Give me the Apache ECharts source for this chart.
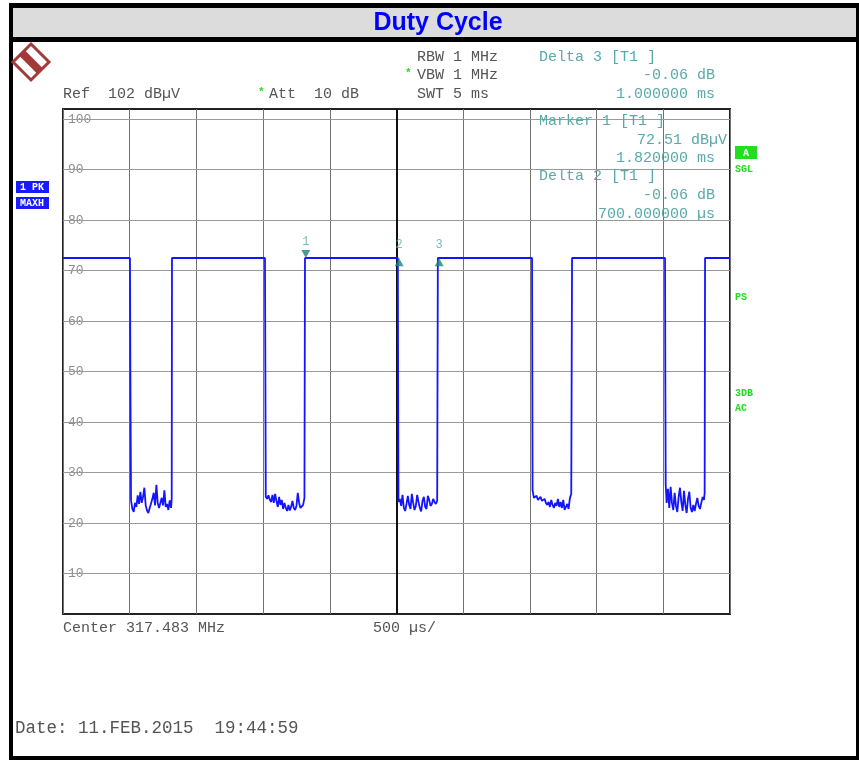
<!DOCTYPE html>
<html>
<head>
<meta charset="utf-8">
<title>Duty Cycle</title>
<script src="https://cdn.jsdelivr.net/npm/echarts@6/dist/echarts.min.js"></script>
<style>
  html, body { margin: 0; padding: 0; background: #fff; }
  #main { width: 859px; height: 760px; }
</style>
</head>
<body>
<div id="main"></div>
<script>
// sweep: 0 .. 5 ms (500 us/div), level 2 .. 102 dBuV (ref 102, 10 dB/div)
const yTicks = [10, 20, 30, 40, 50, 60, 70, 80, 90, 100];
const yTickLabels = ['10', '20', '30', '40', '50', '60', '70', '80', '90', '100'];

const highLevel = 72.5;

// burst gaps, [time ms, level dBuV]
const lowSeg1 = [[0.502, 72.5], [0.505, 50], [0.51, 24.5], [0.52, 22.8], [0.53, 22.2], [0.54, 24.0], [0.55, 23.2],
  [0.56, 25.5], [0.57, 23.8], [0.58, 26.2], [0.59, 24.0], [0.60, 25.2], [0.61, 27.0], [0.62, 23.5], [0.63, 22.5],
  [0.64, 22.0], [0.65, 23.0], [0.66, 22.8], [0.67, 24.8], [0.68, 26.0], [0.69, 23.5], [0.70, 27.6], [0.71, 24.0],
  [0.72, 23.0], [0.73, 22.8], [0.74, 25.0], [0.75, 23.5], [0.76, 26.5], [0.77, 23.2], [0.78, 23.8], [0.79, 22.6],
  [0.80, 24.5], [0.81, 23.0], [0.815, 24.8], [0.817, 72.5]];
const lowSeg2 = [[1.514, 72.5], [1.517, 50], [1.52, 25.2], [1.53, 24.8], [1.54, 25.5], [1.55, 24.6], [1.56, 24.2],
  [1.57, 25.6], [1.58, 24.0], [1.59, 25.8], [1.60, 24.4], [1.61, 23.2], [1.62, 25.2], [1.63, 23.6], [1.64, 24.6],
  [1.65, 22.8], [1.66, 24.0], [1.67, 23.0], [1.68, 22.4], [1.69, 23.6], [1.70, 22.5], [1.71, 23.2], [1.72, 24.4],
  [1.73, 23.0], [1.74, 22.6], [1.75, 23.4], [1.76, 26.0], [1.77, 24.0], [1.78, 23.0], [1.79, 22.8], [1.80, 23.6],
  [1.81, 25.0], [1.814, 72.5]];
const lowSeg3 = [[2.51, 72.5], [2.512, 50], [2.515, 24.2], [2.525, 24.8], [2.535, 23.4], [2.545, 25.6], [2.555, 23.0],
  [2.565, 22.4], [2.575, 23.8], [2.585, 25.4], [2.595, 23.6], [2.605, 22.8], [2.615, 25.8], [2.625, 24.0],
  [2.635, 22.6], [2.645, 23.4], [2.655, 25.6], [2.665, 24.2], [2.675, 23.0], [2.685, 22.3], [2.695, 24.4],
  [2.705, 25.2], [2.715, 23.2], [2.725, 22.8], [2.735, 25.4], [2.745, 24.6], [2.755, 23.4], [2.765, 23.8],
  [2.775, 24.8], [2.785, 24.2], [2.795, 23.8], [2.805, 24.4], [2.81, 72.5]];
const lowSeg4 = [[3.516, 72.5], [3.518, 50], [3.52, 26.5], [3.53, 25.0], [3.54, 24.8], [3.55, 25.4], [3.56, 24.6],
  [3.57, 24.6], [3.58, 25.2], [3.59, 24.4], [3.60, 24.2], [3.61, 24.8], [3.62, 24.0], [3.63, 23.6], [3.64, 24.2],
  [3.65, 23.2], [3.66, 24.6], [3.67, 23.6], [3.68, 23.0], [3.69, 24.0], [3.70, 23.4], [3.71, 24.8], [3.72, 23.2],
  [3.73, 24.2], [3.74, 23.0], [3.75, 24.6], [3.76, 22.6], [3.77, 22.4], [3.78, 23.8], [3.79, 22.8], [3.80, 25.0],
  [3.81, 25.8], [3.816, 72.5]];
const lowSeg5 = [[4.513, 72.5], [4.515, 50], [4.518, 27.6], [4.525, 24.0], [4.535, 26.8], [4.545, 23.0], [4.555, 27.2],
  [4.565, 24.0], [4.575, 22.6], [4.585, 26.0], [4.595, 23.4], [4.605, 22.2], [4.615, 25.2], [4.625, 27.0],
  [4.635, 24.2], [4.645, 22.4], [4.655, 26.4], [4.665, 23.6], [4.675, 22.0], [4.685, 24.8], [4.695, 26.2],
  [4.705, 23.0], [4.715, 22.2], [4.725, 23.6], [4.735, 22.4], [4.745, 23.8], [4.755, 25.0], [4.765, 23.4],
  [4.775, 22.8], [4.785, 24.0], [4.795, 25.2], [4.805, 24.6], [4.81, 26.0], [4.813, 72.5]];

const trace = [[0, highLevel]].concat(lowSeg1, lowSeg2, lowSeg3, lowSeg4, lowSeg5, [[5, highLevel]]);

const markerNames = ['1', '2', '3'];
const markerTimes = [1.82, 2.52, 2.82];
const markerLevels = [72.51, 72.45, 72.45];

const mono = 'Liberation Mono';
const teal = '#5aa9a9';
const green = '#22dd22';

const chart = echarts.init(document.getElementById('main'));

function txt(x, y, text, opt) {
  return {
    type: 'text', x: x, y: y, z: 100,
    style: Object.assign({
      text: text, fill: '#555', font: '15px "' + mono + '"', textVerticalAlign: 'middle',
    }, opt || {}),
  };
}

const option = {
  backgroundColor: '#fff',
  animation: false,
  grid: {
    left: 63, top: 109, width: 667, height: 505,
    show: true, borderColor: '#222', borderWidth: 2, backgroundColor: 'transparent',
  },
  xAxis: {
    type: 'value', min: 0, max: 5, interval: 0.5,
    axisLine: { show: false }, axisTick: { show: false }, axisLabel: { show: false },
    splitLine: { show: true, lineStyle: { color: '#707070', width: 1 } },
  },
  yAxis: {
    type: 'value', min: 2, max: 102,
    axisLine: { show: false }, axisTick: { show: false }, axisLabel: { show: false },
    splitLine: { show: false },
  },
  series: [
    {
      // horizontal grid lines + centre line
      type: 'line',
      z: 1,
      data: [],
      silent: true,
      markLine: {
        silent: true, symbol: 'none', label: { show: false },
        lineStyle: { color: '#9a9a9a', width: 1, type: 'solid' },
        data: yTicks.map((v) => ({ yAxis: v })).concat([
          { xAxis: 2.5, lineStyle: { color: '#111', width: 2 } },
        ]),
      },
    },
    {
      // level labels on white
      type: 'scatter',
      z: 3,
      symbolSize: 0,
      data: yTicks.map((v) => [0, v]),
      silent: true,
      label: {
        show: true, position: 'right', distance: 3,
        formatter: (p) => yTickLabels[p.dataIndex],
        color: '#707070', fontFamily: mono, fontSize: 13,
        backgroundColor: '#fff', padding: [1, 2],
      },
    },
    {
      name: 'trace',
      type: 'line',
      z: 5,
      data: trace,
      symbol: 'none',
      lineStyle: { color: '#1414ff', width: 1.8 },
    },
    {
      name: 'markers',
      type: 'scatter',
      z: 6,
      data: markerTimes.map((t, i) => ({
        value: [t, markerLevels[i]],
        symbolRotate: i === 0 ? 180 : 0,
        symbolOffset: [0, i === 0 ? -4 : 4],
        label: { offset: [0, i === 0 ? 0 : -5] },
      })),
      symbol: 'triangle',
      symbolSize: [9, 8],
      itemStyle: { color: '#1f7f7f' },
      label: {
        show: true, position: 'top', distance: 2,
        formatter: (p) => markerNames[p.dataIndex],
        color: teal, fontFamily: mono, fontSize: 12,
      },
    },
  ],
  graphic: [
    // frame
    { type: 'rect', shape: { x: 9, y: 3, width: 850, height: 5 }, style: { fill: '#000' } },
    { type: 'rect', shape: { x: 13, y: 8, width: 846, height: 29 }, style: { fill: '#dcdcdc' } },
    { type: 'rect', shape: { x: 9, y: 37, width: 850, height: 5 }, style: { fill: '#000' } },
    { type: 'rect', shape: { x: 9, y: 3, width: 4, height: 757 }, style: { fill: '#000' } },
    { type: 'rect', shape: { x: 856, y: 3, width: 3, height: 757 }, style: { fill: '#000' } },
    { type: 'rect', shape: { x: 9, y: 756, width: 850, height: 4 }, style: { fill: '#000' } },
    {
      type: 'text', x: 438, y: 23, z: 100,
      style: {
        text: 'Duty Cycle', fill: '#0000ff', font: 'bold 25px "Liberation Sans"',
        textAlign: 'center', textVerticalAlign: 'middle',
      },
    },
    // R&S logo
    {
      type: 'polygon', z: 100,
      shape: { points: [[31, 44], [49, 62], [31, 80], [13, 62]] },
      style: { fill: '#fff', stroke: '#a33a3a', lineWidth: 3 },
    },
    {
      type: 'polyline', z: 100,
      shape: { points: [[22, 53], [40, 71]] },
      style: { stroke: '#a33a3a', lineWidth: 8 },
    },
    {
      type: 'text', x: 31, y: 62, z: 101, rotation: -Math.PI / 4, originX: 31, originY: 62,
      style: { text: 'R&S', fill: '#fff', font: 'bold 8px "Liberation Sans"', textAlign: 'center', textVerticalAlign: 'middle' },
    },
    // header settings
    txt(417, 57, 'RBW 1 MHz'),
    txt(417, 75, 'VBW 1 MHz'),
    txt(417, 94, 'SWT 5 ms'),
    txt(63, 94, 'Ref  102 dBµV'),
    txt(269, 94, 'Att  10 dB'),
    txt(405, 73, '*', { fill: green, font: 'bold 11px "' + mono + '"' }),
    txt(258, 92, '*', { fill: green, font: 'bold 11px "' + mono + '"' }),
    // marker readouts
    txt(539, 57, 'Delta 3 [T1 ]', { fill: teal }),
    txt(715, 75, '-0.06 dB', { fill: teal, textAlign: 'right' }),
    txt(715, 94, '1.000000 ms', { fill: teal, textAlign: 'right' }),
    txt(539, 121, 'Marker 1 [T1 ]', { fill: teal }),
    txt(727, 140, '72.51 dBµV', { fill: teal, textAlign: 'right' }),
    txt(715, 158, '1.820000 ms', { fill: teal, textAlign: 'right' }),
    txt(539, 176, 'Delta 2 [T1 ]', { fill: teal }),
    txt(715, 195, '-0.06 dB', { fill: teal, textAlign: 'right' }),
    txt(715, 214, '700.000000 µs', { fill: teal, textAlign: 'right' }),
    // trace info boxes
    { type: 'rect', z: 100, shape: { x: 16, y: 181, width: 33, height: 12 }, style: { fill: '#1a1aff' } },
    { type: 'rect', z: 100, shape: { x: 16, y: 197, width: 33, height: 12 }, style: { fill: '#1a1aff' } },
    txt(32, 187, '1 PK', { fill: '#fff', font: 'bold 10px "' + mono + '"', textAlign: 'center' }),
    txt(32, 203, 'MAXH', { fill: '#fff', font: 'bold 10px "' + mono + '"', textAlign: 'center' }),
    // right side status
    { type: 'rect', z: 100, shape: { x: 735, y: 146, width: 22, height: 13 }, style: { fill: green } },
    txt(746, 153, 'A', { fill: '#fff', font: 'bold 10px "' + mono + '"', textAlign: 'center' }),
    txt(735, 169, 'SGL', { fill: green, font: 'bold 10px "' + mono + '"' }),
    txt(735, 297, 'PS', { fill: green, font: 'bold 10px "' + mono + '"' }),
    txt(735, 393, '3DB', { fill: green, font: 'bold 10px "' + mono + '"' }),
    txt(735, 408, 'AC', { fill: green, font: 'bold 10px "' + mono + '"' }),
    // footer
    txt(63, 628, 'Center 317.483 MHz'),
    txt(373, 628, '500 µs/'),
    txt(15, 728, 'Date: 11.FEB.2015  19:44:59', { font: '17.5px "' + mono + '"' }),
  ],
};

chart.setOption(option);
</script>
</body>
</html>
